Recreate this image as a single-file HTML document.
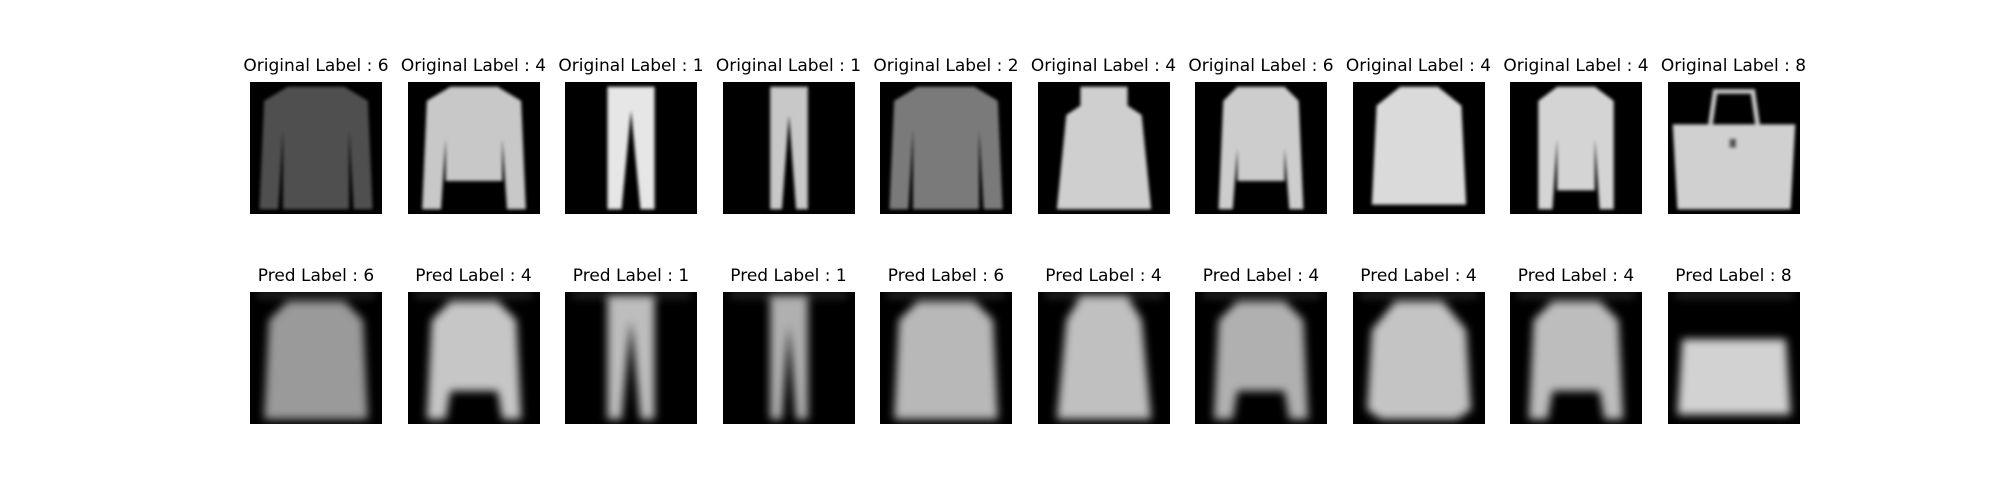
<!DOCTYPE html>
<html><head><meta charset="utf-8"><style>
html,body{margin:0;padding:0;background:#fff;width:2000px;height:500px;overflow:hidden}
.t{position:absolute;font-family:"DejaVu Sans","Liberation Sans",sans-serif;font-size:17px;color:#000;text-align:center;width:200px;white-space:nowrap}
svg.im{position:absolute;width:132px;height:132px}
</style></head><body>
<svg width="0" height="0" style="position:absolute"><defs>
<filter id="b1" x="-10%" y="-10%" width="120%" height="120%"><feGaussianBlur stdDeviation="0.35"/></filter>
<filter id="b2" x="-10%" y="-10%" width="120%" height="120%"><feGaussianBlur stdDeviation="0.9"/></filter>
</defs></svg>
<div id="root"></div>
<script>
const origLabels=[6,4,1,1,2,4,6,4,4,8];
const predLabels=[6,4,1,1,6,4,4,4,4,8];
const S={
 shirt:"M8 1 L20 1 L25 4 L26 27 L22 27 L21 10 L21 27 L7 27 L7 10 L6 27 L2 27 L3 4 Z",
 jacket:"M9 1 L19 1 L24 4 L25 27 L21 27 L20 12 L20 21 L8 21 L8 12 L7 27 L3 27 L4 4 Z",
 trousers:"M9 1 L19 1 L19 27 L16 27 L14 6 L12 27 L9 27 Z",
 trousersN:"M10 1 L18 1 L18 27 L15.5 27 L14 7 L12.5 27 L10 27 Z",
 coat:"M9 1 L19 1 L19 5 L22 7 L24 27 L4 27 L6 7 L9 5 Z",
 coat2:"M10 1 L18 1 L23 5 L24 26 L4 26 L5 5 Z",
 jack6:"M9 1 L19 1 L22 4 L23 27 L20 27 L19 14 L19 21 L9 21 L9 14 L8 27 L5 27 L6 4 Z",
 jack8:"M10 1 L18 1 L22 4 L22 27 L19 27 L18 12 L18 23 L10 23 L10 12 L9 27 L6 27 L6 4 Z",
 bag:"M1 9 L27 9 L26 27 L2 27 Z",
 pshirt:"M8 2 L20 2 L24 6 L25 27 L3 27 L4 6 Z",
 pjack:"M9 2 L19 2 L23 6 L24 27 L20 27 L19 21 L9 21 L8 27 L4 27 L5 6 Z",
 pcoat:"M9 1 L19 1 L22 6 L24 27 L4 27 L6 6 Z",
 pround:"M9 2 L19 2 L24 8 L25 25 L22 27 L6 27 L3 25 L4 8 Z",
 pbag:"M3 10 L25 10 L26 26 L2 26 Z"
};
const origShapes=["shirt","jacket","trousers","trousersN","shirt","coat","jack6","coat2","jack8","bag"];
const origFill=["#505050","#c8c8c8","#e6e6e6","#c8c8c8","#7a7a7a","#cfcfcf","#cdcdcd","#dadada","#d4d4d4","#d0d0d0"];
const predShapes=["pshirt","pjack","trousers","trousersN","pshirt","pcoat","pjack","pround","pjack","pbag"];
const predFill=["#9a9a9a","#c6c6c6","#bdbdbd","#b0b0b0","#b8b8b8","#c0c0c0","#b0b0b0","#c4c4c4","#bdbdbd","#d2d2d2"];
const root=document.getElementById('root');
function panel(i,row){
 const x=250+i*157.5, y=row?292:82;
 const t=document.createElement('div');
 t.className='t';
 
 
 t.style.left=(x+66-100)+'px'; t.style.top=(row?266:56)+'px';
 t.textContent=row?('Pred Label : '+predLabels[i]):('Original Label : '+origLabels[i]);
 root.appendChild(t);
 const sh=row?predShapes[i]:origShapes[i], fill=row?predFill[i]:origFill[i];
 let extra='';
 if(sh==='bag') extra='<path d="M9 9 L10 2 L18 2 L19 9" fill="none" stroke="#c8c8c8" stroke-width="1"/><rect x="13" y="12" width="1.5" height="2" fill="#555"/>';
 if(row) extra+='<rect x="1.5" y="0.4" width="25" height="0.6" fill="#555"/>';
 const svg=document.createElementNS('http://www.w3.org/2000/svg','svg');
 svg.setAttribute('class','im');
 svg.setAttribute('viewBox','0 0 28 28');
 svg.setAttribute('preserveAspectRatio','none');
 
 
 svg.style.left=x+'px'; svg.style.top=y+'px';
 svg.innerHTML='<rect width="28" height="28" fill="#000"/><g filter="url(#'+(row?'b2':'b1')+')"><path d="'+S[sh]+'" fill="'+fill+'"/>'+extra+'</g>';
 root.appendChild(svg);
}
for(let i=0;i<10;i++){panel(i,0);panel(i,1);}
</script>
</body></html>
